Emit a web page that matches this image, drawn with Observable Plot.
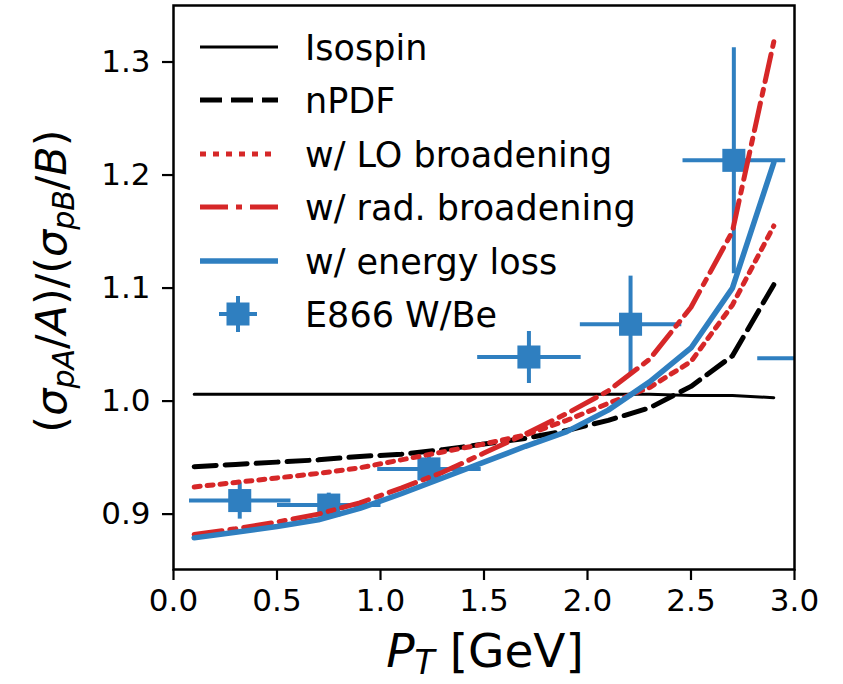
<!DOCTYPE html>
<html>
<head>
<meta charset="utf-8">
<script src="https://cdn.jsdelivr.net/npm/d3@7"></script>
<script src="https://cdn.jsdelivr.net/npm/@observablehq/plot@0.6"></script>
<style>
  html, body { margin: 0; padding: 0; background: #fff; }
  #chart svg { display: block; }
</style>
</head>
<body>
<div id="chart"></div>
<script>
// ---- data ----
const ptGrid = [0.1, 0.3, 0.5, 0.7, 0.9, 1.1, 1.3, 1.5, 1.7, 1.9, 2.1, 2.3, 2.5, 2.7, 2.9];
const isospin = [1.006, 1.006, 1.006, 1.006, 1.006, 1.006, 1.006, 1.006, 1.006, 1.006, 1.006, 1.006, 1.005, 1.005, 1.003];
const npdf    = [0.942, 0.944, 0.946, 0.948, 0.951, 0.953, 0.957, 0.962, 0.967, 0.974, 0.983, 0.994, 1.013, 1.040, 1.103];
const loBroad = [0.924, 0.928, 0.932, 0.936, 0.941, 0.948, 0.955, 0.962, 0.970, 0.983, 0.998, 1.012, 1.035, 1.085, 1.155];
const radBroad= [0.882, 0.887, 0.893, 0.900, 0.910, 0.923, 0.937, 0.954, 0.971, 0.989, 1.009, 1.037, 1.083, 1.150, 1.318];
const eLoss   = [0.879, 0.884, 0.889, 0.895, 0.905, 0.918, 0.932, 0.946, 0.960, 0.973, 0.992, 1.017, 1.047, 1.100, 1.211];

const expPt   = [0.32, 0.75, 1.234, 1.717, 2.208, 2.707, 3.07];
const expR    = [0.912, 0.908, 0.940, 1.039, 1.068, 1.213, 1.038];
const expXerr = [0.245, 0.25, 0.25, 0.25, 0.245, 0.248, 0.25];
const expYerr = [0.016, 0.011, 0.012, 0.023, 0.043, 0.100, 0.030];

const xTicks = [0.0, 0.5, 1.0, 1.5, 2.0, 2.5, 3.0];
const yTicks = [0.9, 1.0, 1.1, 1.2, 1.3];

const seriesNames = ["Isospin", "nPDF", "w/ LO broadening", "w/ rad. broadening", "w/ energy loss"];
const expName = "E866 W/Be";

// ---- styles ----
const BLUE = "#2f7fc0";
const RED = "#d62728";
const styles = [
  {stroke: "#000", strokeWidth: 3, dash: null},
  {stroke: "#000", strokeWidth: 5, dash: "22,9"},
  {stroke: RED, strokeWidth: 5, dash: "6,7"},
  {stroke: RED, strokeWidth: 5, dash: "28,8,6,8"},
  {stroke: BLUE, strokeWidth: 5.5, dash: null}
];
const seriesVals = [isospin, npdf, loBroad, radBroad, eLoss];

const lineMarks = seriesVals.map((vals, k) => {
  const rows = ptGrid.map((x, i) => ({x, y: vals[i]}));
  return Plot.line(rows, {
    x: "x", y: "y",
    stroke: styles[k].stroke,
    strokeWidth: styles[k].strokeWidth,
    strokeDasharray: styles[k].dash,
    strokeLinejoin: "round",
    clip: true
  });
});

const exp = expPt.map((x, i) => ({x, y: expR[i], xe: expXerr[i], ye: expYerr[i]}));

const W = 843, H = 684;
const plot = Plot.plot({
  width: W,
  height: H,
  marginLeft: 173,
  marginRight: 49,
  marginTop: 5,
  marginBottom: 115,
  style: {fontFamily: "DejaVu Sans", fontSize: "31px", color: "#000", background: "#fff"},
  x: {domain: [0, 3], ticks: xTicks, tickFormat: d3.format(".1f"), label: null},
  y: {domain: [0.851, 1.350], ticks: yTicks, tickFormat: d3.format(".1f"), label: null},
  marks: [
    Plot.link(exp, {x1: d => d.x - d.xe, x2: d => d.x + d.xe, y1: "y", y2: "y", stroke: BLUE, strokeWidth: 4, clip: true}),
    Plot.link(exp, {x1: "x", x2: "x", y1: d => d.y - d.ye, y2: d => d.y + d.ye, stroke: BLUE, strokeWidth: 4, clip: true}),
    Plot.dot(exp, {x: "x", y: "y", symbol: "square", r: 13, fill: BLUE, stroke: "none", clip: true}),
    ...lineMarks,
    Plot.axisX({ticks: xTicks, tickFormat: d3.format(".1f"), tickSize: 11, tickPadding: 8, strokeWidth: 2.2, fontSize: 31, label: null}),
    Plot.axisY({ticks: yTicks, tickFormat: d3.format(".1f"), tickSize: 11, tickPadding: 12, strokeWidth: 2.2, fontSize: 31, label: null}),
    Plot.frame({stroke: "#000", strokeWidth: 2.5})
  ]
});
document.getElementById("chart").appendChild(plot);

// ---- legend and axis titles ----
const svg = d3.select(plot);
const ns = "DejaVu Sans";
const leg = svg.append("g").attr("font-family", ns).attr("font-size", 35).attr("text-anchor", "start");
const rowY = [47, 100, 154, 207, 261, 314];
const sx1 = 200, sx2 = 278, tx = 305;
styles.forEach((s, k) => {
  leg.append("line")
    .attr("x1", sx1).attr("x2", sx2).attr("y1", rowY[k]).attr("y2", rowY[k])
    .attr("stroke", s.stroke).attr("stroke-width", s.strokeWidth)
    .attr("stroke-dasharray", s.dash);
  leg.append("text").attr("x", tx).attr("y", rowY[k]).attr("dy", "0.36em").attr("text-anchor", "start").text(seriesNames[k]);
});
{
  const cx = 238, cy = rowY[5];
  leg.append("line").attr("x1", cx - 19).attr("x2", cx + 19).attr("y1", cy).attr("y2", cy).attr("stroke", BLUE).attr("stroke-width", 4);
  leg.append("line").attr("x1", cx).attr("x2", cx).attr("y1", cy - 18).attr("y2", cy + 18).attr("stroke", BLUE).attr("stroke-width", 4);
  leg.append("rect").attr("x", cx - 11.5).attr("y", cy - 11.5).attr("width", 23).attr("height", 23).attr("fill", BLUE);
  leg.append("text").attr("x", tx).attr("y", cy).attr("dy", "0.36em").attr("text-anchor", "start").text(expName);
}

// x label: P_T [GeV]
const xl = svg.append("text").attr("font-family", ns).attr("font-size", 47)
  .attr("x", 485).attr("y", 667).attr("text-anchor", "middle");
xl.append("tspan").attr("font-style", "italic").text("P");
xl.append("tspan").attr("font-style", "italic").attr("font-size", 33).attr("dy", 7).text("T");
xl.append("tspan").attr("dy", -7).text(" [GeV]");

// y label: (σ_pA/A)/(σ_pB/B)
const yl = svg.append("text").attr("font-family", ns).attr("font-size", 43)
  .attr("text-anchor", "middle")
  .attr("transform", "translate(66,281) rotate(-90)");
yl.append("tspan").text("(");
yl.append("tspan").attr("font-style", "italic").text("σ");
yl.append("tspan").attr("font-style", "italic").attr("font-size", 30).attr("dy", 8).text("pA");
yl.append("tspan").attr("dy", -8).text("/");
yl.append("tspan").attr("font-style", "italic").text("A");
yl.append("tspan").text(")/(");
yl.append("tspan").attr("font-style", "italic").text("σ");
yl.append("tspan").attr("font-style", "italic").attr("font-size", 30).attr("dy", 8).text("pB");
yl.append("tspan").attr("dy", -8).text("/");
yl.append("tspan").attr("font-style", "italic").text("B");
yl.append("tspan").text(")");
</script>
</body>
</html>
